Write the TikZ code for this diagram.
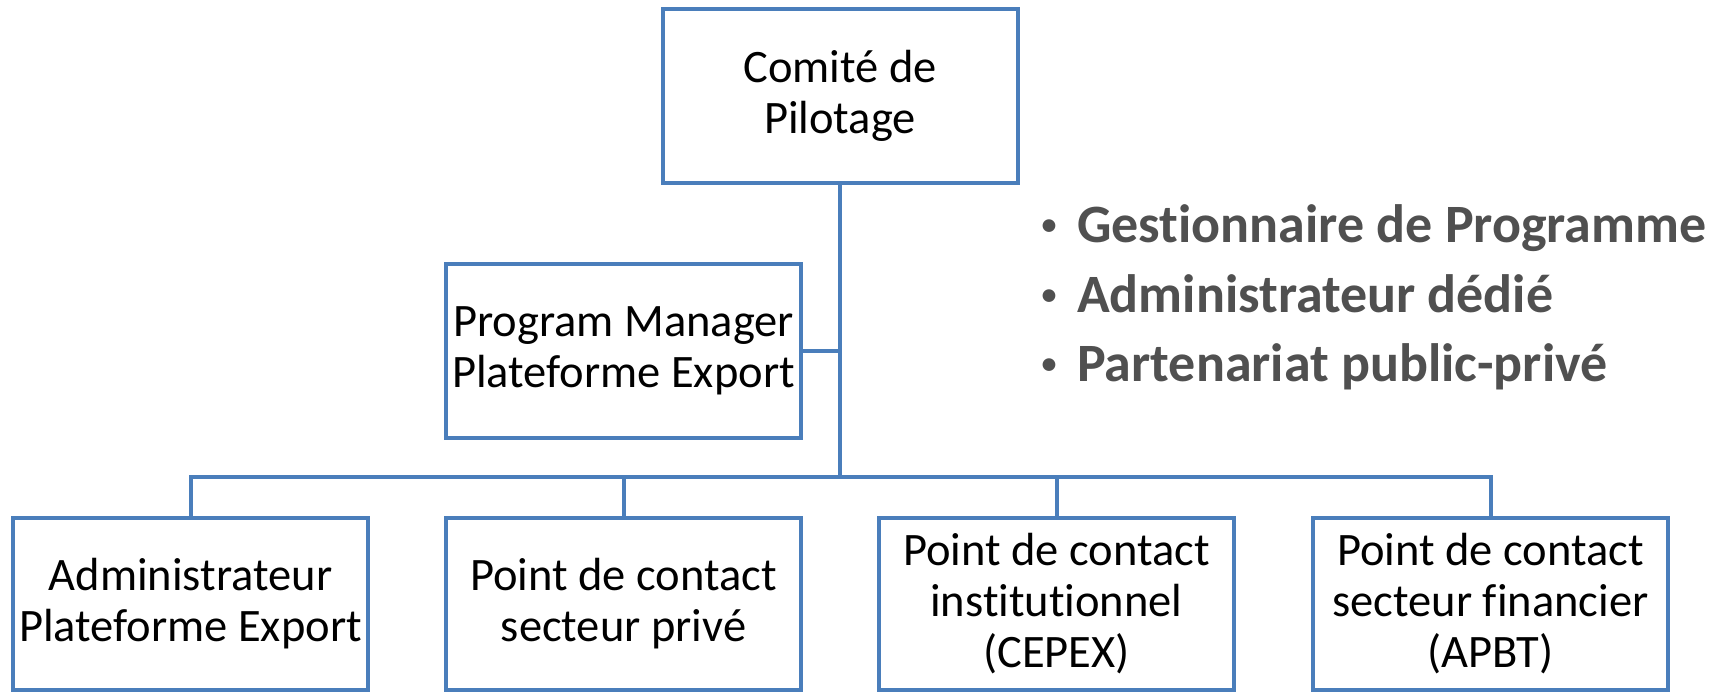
\documentclass[tikz,border=0pt]{standalone}
\usepackage{fontspec}
\setmainfont[Ligatures={NoCommon}]{Carlito}
\definecolor{boxblue}{HTML}{4A7EBB}
\definecolor{bultext}{HTML}{505050}
\begin{document}
\begin{tikzpicture}[x=1pt,y=-1pt,
  orgbox/.style={draw=boxblue, line width=4pt, fill=white, rectangle, inner sep=0pt, outer sep=0pt,
    minimum width=355pt, minimum height=174pt, align=center, text=black,
    font=\fontsize{46.5}{51}\selectfont},
  link/.style={draw=boxblue, line width=4pt},
  bultxt/.style={anchor=base west, inner sep=0pt, text=bultext, font=\fontsize{54}{60}\selectfont\bfseries},
  bulmark/.style={anchor=base, inner sep=0pt, text=bultext, font=\fontsize{30}{34}\selectfont\bfseries}
]
\useasboundingbox (0,0) rectangle (1727,694);
\fill[white] (0,0) rectangle (1727,694);

\node[orgbox] (top) at (840,95.5) {Comité de\\Pilotage};
\node[orgbox] (pm) at (623.5,350.5) {Program Manager\\Plateforme Export};
\node[orgbox, minimum height=172pt] (c1) at (190.5,604) {Administrateur\\Plateforme Export};
\node[orgbox, minimum height=172pt] (c2) at (623.5,604) {Point de contact\\secteur privé};
\node[orgbox, minimum height=172pt] (c3) at (1056.5,604) {Point de contact\\institutionnel\\(CEPEX)};
\node[orgbox, minimum height=172pt] (c4) at (1490.5,604) {Point de contact\\secteur financier\\(APBT)};

\coordinate (bus) at (841,477);

\draw[link] (top.south) -- (top.south |- bus);
\draw[link] (pm.east) -- (pm.east -| top.south);
\foreach \c in {c1,c2,c3,c4}{
  \draw[link] (\c.north) -- (\c.north |- bus) -- (top.south |- bus);
}

\node[bulmark] (b1) at (1049,234) {•};
\node[bulmark] (b2) at (1049,304) {•};
\node[bulmark] (b3) at (1049,373) {•};
\node[bultxt] (t1) at (1077,242) {Gestionnaire de Programme};
\node[bultxt] (t2) at (1077,312) {Administrateur dédié};
\node[bultxt] (t3) at (1077,381) {Partenariat public-privé};
\end{tikzpicture}
\end{document}
